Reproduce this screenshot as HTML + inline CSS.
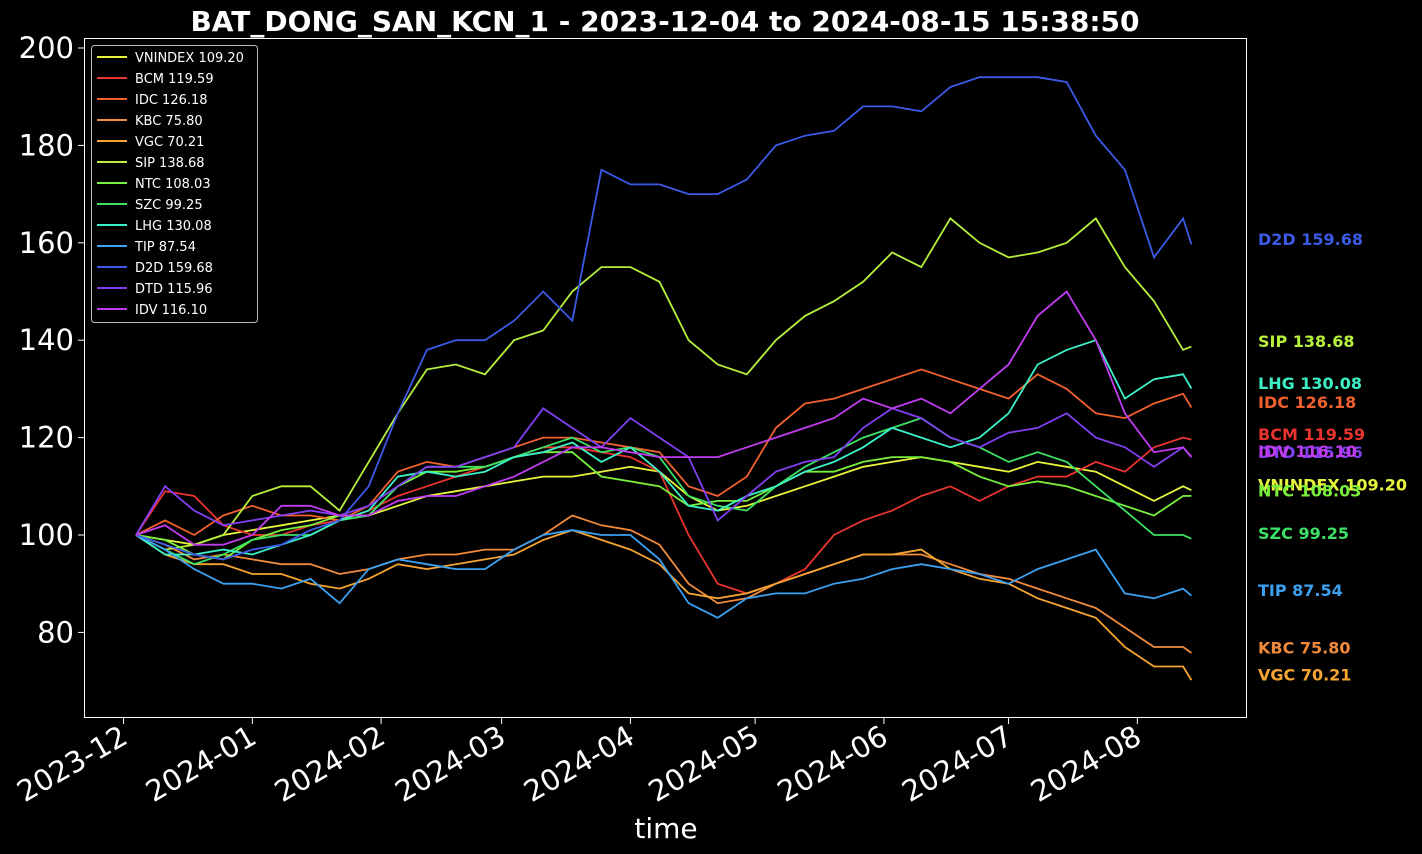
<!DOCTYPE html>
<html><head><meta charset="utf-8"><style>
body{margin:0;background:#000;}
svg{display:block;font-family:"DejaVu Sans","Liberation Sans",sans-serif;}
</style></head><body>
<svg id="chart" width="1422" height="854" viewBox="0 0 1422 854">
<rect width="1422" height="854" fill="#000"/>
<text x="665" y="31" fill="#fff" font-size="28" font-weight="bold" text-anchor="middle">BAT_DONG_SAN_KCN_1 - 2023-12-04 to 2024-08-15 15:38:50</text>
<rect x="84.5" y="38.5" width="1162" height="679" fill="none" stroke="#fff" stroke-width="1"/>
<g id="axes"></g><g id="lines"></g><g id="endlabels"></g><g id="legend"></g>
<text x="666" y="838" fill="#fff" font-size="28" text-anchor="middle">time</text>
</svg>
<script>
const days=[0,7,14,21,28,35,42,49,56,63,70,77,84,91,98,105,112,119,126,133,140,147,154,161,168,175,182,189,196,203,210,217,224,231,238,245,252,254];
const names=["VNINDEX","BCM","IDC","KBC","VGC","SIP","NTC","SZC","LHG","TIP","D2D","DTD","IDV"];
const colors=["#e6f53c","#e8342e","#f0602e","#f08a3c","#f5a432","#b6f03c","#78f03c","#3ce064","#3cf0c8","#3ca0f0","#3c5ae6","#8040f0","#c03cf0"];
const sVNINDEX=[100,99,98,100,101,102,103,104,104,106,108,109,110,111,112,112,113,114,113,108,105,106,108,110,112,114,115,116,115,114,113,115,114,113,110,107,110,109.2];
const sBCM=[100,109,108,102,100,100,102,103,105,108,110,112,114,116,118,118,117,116,113,100,90,88,90,93,100,103,105,108,110,107,110,112,112,115,113,118,120,119.59];
const sIDC=[100,103,100,104,106,104,104,103,106,113,115,114,116,118,120,120,119,118,117,110,108,112,122,127,128,130,132,134,132,130,128,133,130,125,124,127,129,126.18];
const sKBC=[100,98,95,96,95,94,94,92,93,95,96,96,97,97,100,104,102,101,98,90,86,87,90,92,94,96,96,96,94,92,91,89,87,85,81,77,77,75.8];
const sVGC=[100,96,94,94,92,92,90,89,91,94,93,94,95,96,99,101,99,97,94,88,87,88,90,92,94,96,96,97,93,91,90,87,85,83,77,73,73,70.21];
const sSIP=[100,97,98,100,108,110,110,105,115,125,134,135,133,140,142,150,155,155,152,140,135,133,140,145,148,152,158,155,165,160,157,158,160,165,155,148,138,138.68];
const sNTC=[100,99,96,95,99,101,102,104,104,110,113,113,114,116,117,117,112,111,110,106,107,107,110,113,113,115,116,116,115,112,110,111,110,108,106,104,108,108.03];
const sSZC=[100,97,94,96,99,100,100,103,104,110,114,114,114,116,118,120,117,118,116,108,106,105,110,114,117,120,122,124,120,118,115,117,115,110,105,100,100,99.25];
const sLHG=[100,96,96,97,96,98,100,103,105,112,113,112,113,116,117,119,115,118,113,106,105,108,110,113,115,118,122,120,118,120,125,135,138,140,128,132,133,130.08];
const sTIP=[100,97,93,90,90,89,91,86,93,95,94,93,93,97,100,101,100,100,95,86,83,87,88,88,90,91,93,94,93,92,90,93,95,97,88,87,89,87.54];
const sD2D=[100,98,96,95,97,98,101,103,110,125,138,140,140,144,150,144,175,172,172,170,170,173,180,182,183,188,188,187,192,194,194,194,193,182,175,157,165,159.68];
const sDTD=[100,110,105,102,103,104,105,104,106,110,114,114,116,118,126,122,118,124,120,116,103,108,113,115,116,122,126,124,120,118,121,122,125,120,118,114,118,115.96];
const sIDV=[100,102,98,98,100,106,106,104,104,107,108,108,110,112,115,118,118,117,116,116,116,118,120,122,124,128,126,128,125,130,135,145,150,140,125,117,118,116.1];
const series=[sVNINDEX,sBCM,sIDC,sKBC,sVGC,sSIP,sNTC,sSZC,sLHG,sTIP,sD2D,sDTD,sIDV];
const yTicks=[80,100,120,140,160,180,200];
const xTickLabels=["2023-12","2024-01","2024-02","2024-03","2024-04","2024-05","2024-06","2024-07","2024-08"];
const xTickDays=[-3,28,59,88,119,149,180,210,241];

const NS="http://www.w3.org/2000/svg";
const xS=d=>136+4.155*d;
const yS=v=>535-(v-100)*4.87;
function mk(tag,attrs,parent){const e=document.createElementNS(NS,tag);for(const k in attrs)e.setAttribute(k,attrs[k]);parent.appendChild(e);return e;}
const axes=document.getElementById('axes');
yTicks.forEach(t=>{
  const y=yS(t);
  const l=mk('line',{x1:78,x2:84,y1:y,y2:y,stroke:'#fff'},axes);
  
  
  const tx=mk('text',{x:74,y:y+10,fill:'#fff','font-size':29,'text-anchor':'end'},axes);
  tx.textContent=t;
  
  
});
xTickDays.forEach((d,i)=>{
  const x=xS(d);
  const l=mk('line',{x1:x,x2:x,y1:718,y2:724,stroke:'#fff'},axes);
  
  
  const tx=mk('text',{x:x+6,y:742,fill:'#fff','font-size':29,'text-anchor':'end',transform:`rotate(-30 ${x+6} 742)`},axes);
  tx.textContent=xTickLabels[i];
  
  
});
const lines=document.getElementById('lines');
const endl=document.getElementById('endlabels');
const leg=document.getElementById('legend');
const lr=mk('rect',{x:91.5,y:45.5,width:166,height:277,rx:3,fill:'#000',stroke:'#bbb'},leg);


series.forEach((s,i)=>{
  const pts=s.map((v,j)=>xS(days[j]).toFixed(1)+','+yS(v).toFixed(1)).join(' ');
  const p=mk('polyline',{points:pts,fill:'none',stroke:colors[i],'stroke-width':1.8},lines);
  
  
  const last=s[s.length-1];
  const t=mk('text',{x:1258,y:yS(last)+0.5,fill:colors[i],'font-size':16,'font-weight':'bold'},endl);
  t.textContent=names[i]+' '+last.toFixed(2);
  
  
  const ly=57+i*21;
  const ll=mk('line',{x1:97,x2:127,y1:ly,y2:ly,stroke:colors[i],'stroke-width':2},leg);
  
  
  const lt=mk('text',{x:135,y:ly+5,fill:'#fff','font-size':13},leg);
  lt.textContent=names[i]+' '+last.toFixed(2);
  
  
});
</script>
</body></html>
